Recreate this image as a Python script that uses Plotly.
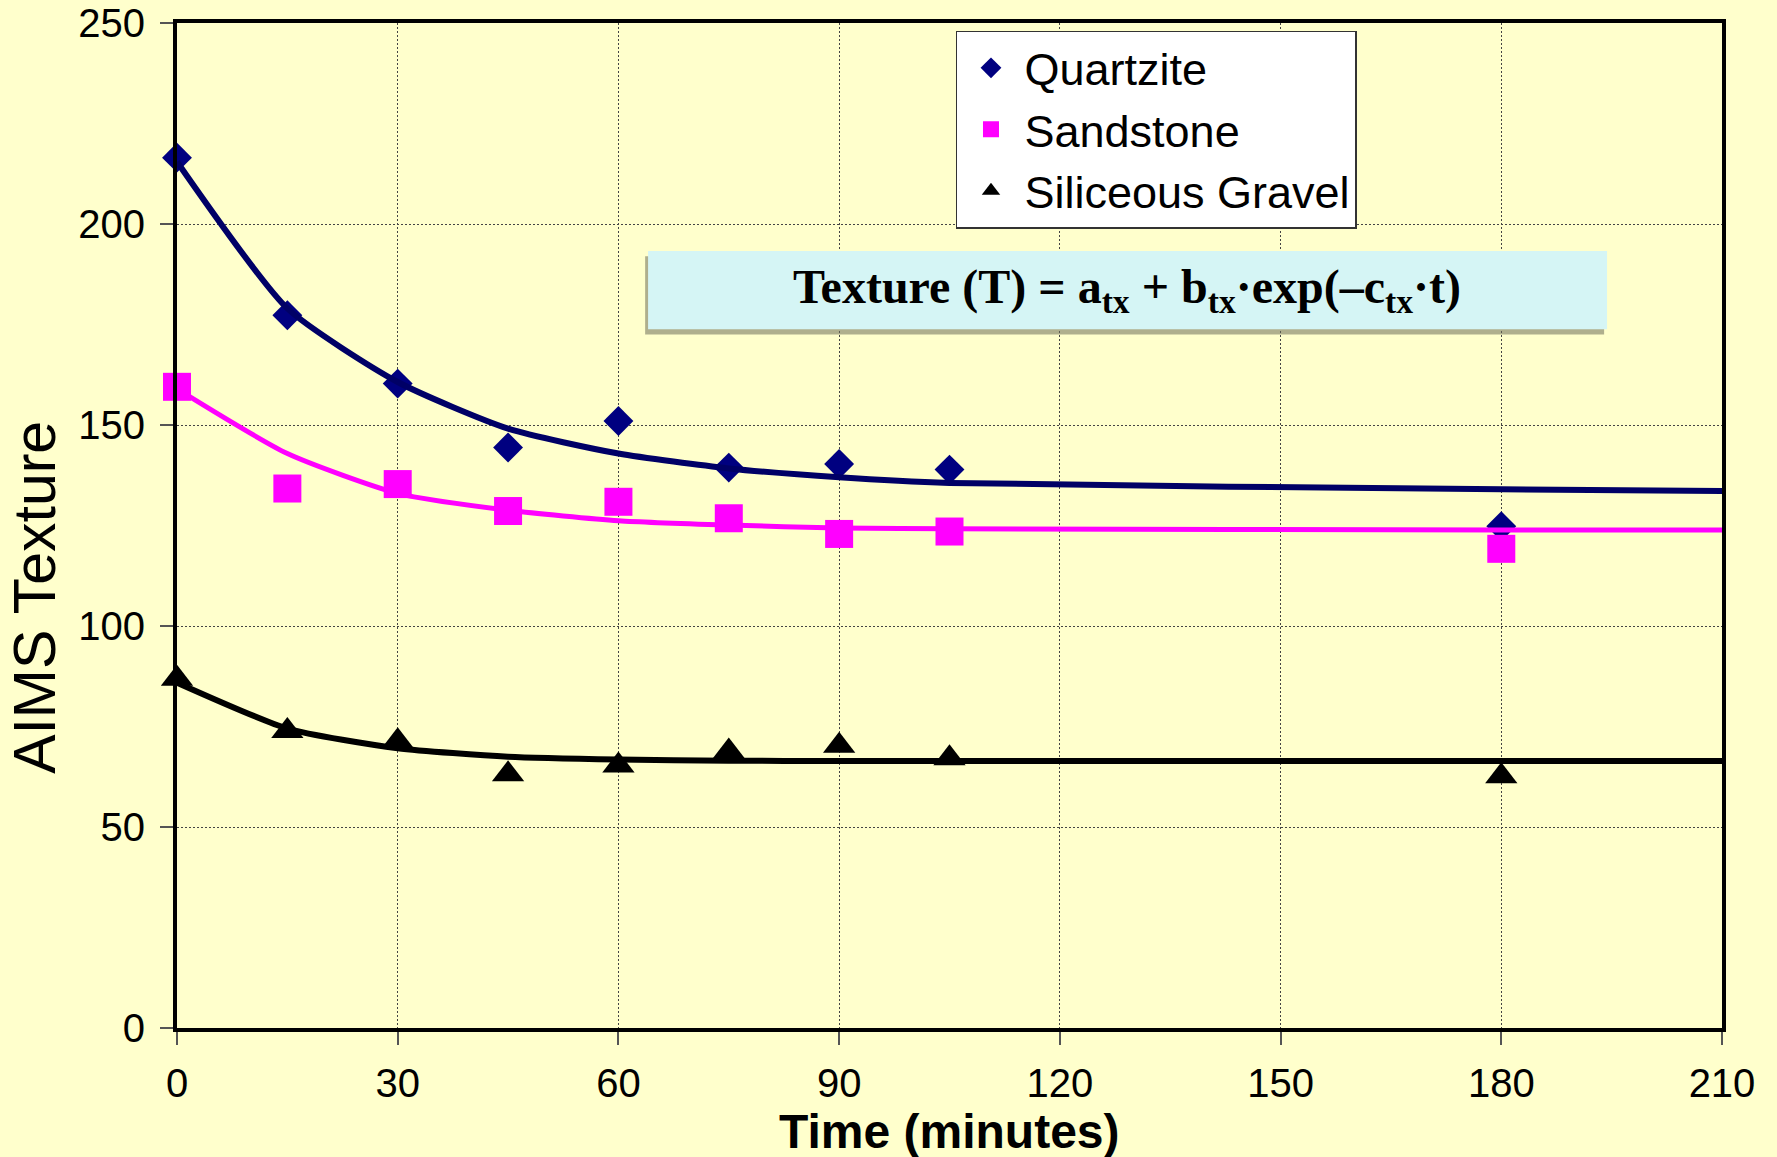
import plotly.graph_objects as go

# ---- data ----
time_pts = [0, 15, 30, 45, 60, 75, 90, 105, 180]
quartzite = [216.5, 177.3, 160.3, 144.4, 151.0, 139.4, 140.3, 138.9, 124.8]
sandstone = [159.5, 134.2, 135.3, 128.6, 130.9, 126.8, 122.9, 123.5, 119.2]
gravel = [86.9, 73.9, 71.3, 63.1, 65.3, 68.8, 70.2, 67.1, 62.6]

fit_time = [0, 15, 30, 45, 60, 75, 90, 105, 180, 210]
quartzite_fit = [215.5, 179.0, 160.7, 149.1, 142.9, 139.2, 137.0, 135.6, 134.0, 133.6]
sandstone_fit = [159.0, 142.9, 133.0, 128.8, 126.2, 125.1, 124.4, 124.2, 123.9, 123.9]
gravel_fit = [85.9, 74.5, 69.6, 67.5, 66.8, 66.5, 66.4, 66.4, 66.4, 66.4]

x_ticks = [0, 30, 60, 90, 120, 150, 180, 210]
y_ticks = [0, 50, 100, 150, 200, 250]

series_names = ["Quartzite", "Sandstone", "Siliceous Gravel"]

BG = "#FFFFCC"
SANS = "Liberation Sans, Arial, sans-serif"
SERIF = "Liberation Serif, Times New Roman, serif"

fig = go.Figure()

# markers
fig.add_trace(go.Scatter(x=time_pts, y=quartzite, mode="markers", name=series_names[0],
                         marker=dict(symbol="diamond", size=23, color="#000080"),
                         cliponaxis=False))
fig.add_trace(go.Scatter(x=time_pts, y=sandstone, mode="markers", name=series_names[1],
                         marker=dict(symbol="square", size=28, color="#FF00FF"),
                         cliponaxis=False))
fig.add_trace(go.Scatter(x=time_pts, y=gravel, mode="markers", name=series_names[2],
                         marker=dict(symbol="triangle-up", size=28, color="#000000"),
                         cliponaxis=False))

# fitted curves
fig.add_trace(go.Scatter(x=fit_time, y=quartzite_fit, mode="lines", showlegend=False,
                         line=dict(color="#000066", width=6, shape="spline", smoothing=0.6),
                         hoverinfo="skip"))
fig.add_trace(go.Scatter(x=fit_time, y=sandstone_fit, mode="lines", showlegend=False,
                         line=dict(color="#FF00FF", width=5, shape="spline", smoothing=0.6),
                         hoverinfo="skip"))
fig.add_trace(go.Scatter(x=fit_time, y=gravel_fit, mode="lines", showlegend=False,
                         line=dict(color="#000000", width=6, shape="spline", smoothing=0.6),
                         hoverinfo="skip"))

axis_common = dict(
    showline=True, linecolor="#000000", linewidth=4, mirror=True,
    ticks="outside", ticklen=13, tickwidth=1.5, tickcolor="#555555",
    showgrid=True, gridcolor="#444444", gridwidth=1, griddash="2px,2px",
    zeroline=False, automargin=False,
    tickfont=dict(family=SANS, size=40, color="#000000"),
)

fig.update_xaxes(range=[0, 210], tickvals=x_ticks, ticktext=[str(v) for v in x_ticks],
                 ticklabelstandoff=4, **axis_common)
fig.update_yaxes(range=[0, 250], tickvals=y_ticks, ticktext=[str(v) for v in y_ticks],
                 ticklabelstandoff=7, **axis_common)

# equation box (shadow + box)
fig.add_shape(type="rect", xref="paper", yref="paper",
              x0=0.3030, x1=0.9237, y0=0.6900, y1=0.7680,
              fillcolor="rgba(110,110,90,0.55)", line=dict(width=0), layer="above")
fig.add_shape(type="rect", xref="paper", yref="paper",
              x0=0.3049, x1=0.9256, y0=0.6952, y1=0.7731,
              fillcolor="#D5F5F5", line=dict(width=0), layer="above")

fig.add_annotation(xref="paper", yref="paper", x=0.6152, y=0.7342,
                   xanchor="center", yanchor="middle", showarrow=False,
                   text="<b>Texture (T) = a<sub>tx</sub> + b<sub>tx</sub>·exp(–c<sub>tx</sub>·t)</b>",
                   font=dict(family=SERIF, size=48, color="#000000"))

# axis titles
fig.add_annotation(xref="paper", yref="paper", x=0.5, y=-0.1025,
                   xanchor="center", yanchor="middle", showarrow=False,
                   text="<b>Time (minutes)</b>",
                   font=dict(family=SANS, size=48, color="#000000"))
fig.add_annotation(xref="paper", yref="paper", x=-0.0919, y=0.428,
                   xanchor="center", yanchor="middle", showarrow=False, textangle=-90,
                   text="AIMS Texture",
                   font=dict(family=SANS, size=59, color="#000000"))

fig.update_layout(
    width=1777, height=1157,
    margin=dict(l=177, r=55, t=23, b=129),
    paper_bgcolor=BG, plot_bgcolor=BG,
    showlegend=True,
    legend=dict(x=0.5042, y=0.9925, xanchor="left", yanchor="top",
                bgcolor="#FFFFFF", bordercolor="#333333", borderwidth=1.5,
                font=dict(family=SANS, size=45, color="#000000"),
                itemwidth=57, tracegroupgap=0),
)

fig.write_html("out.html")
